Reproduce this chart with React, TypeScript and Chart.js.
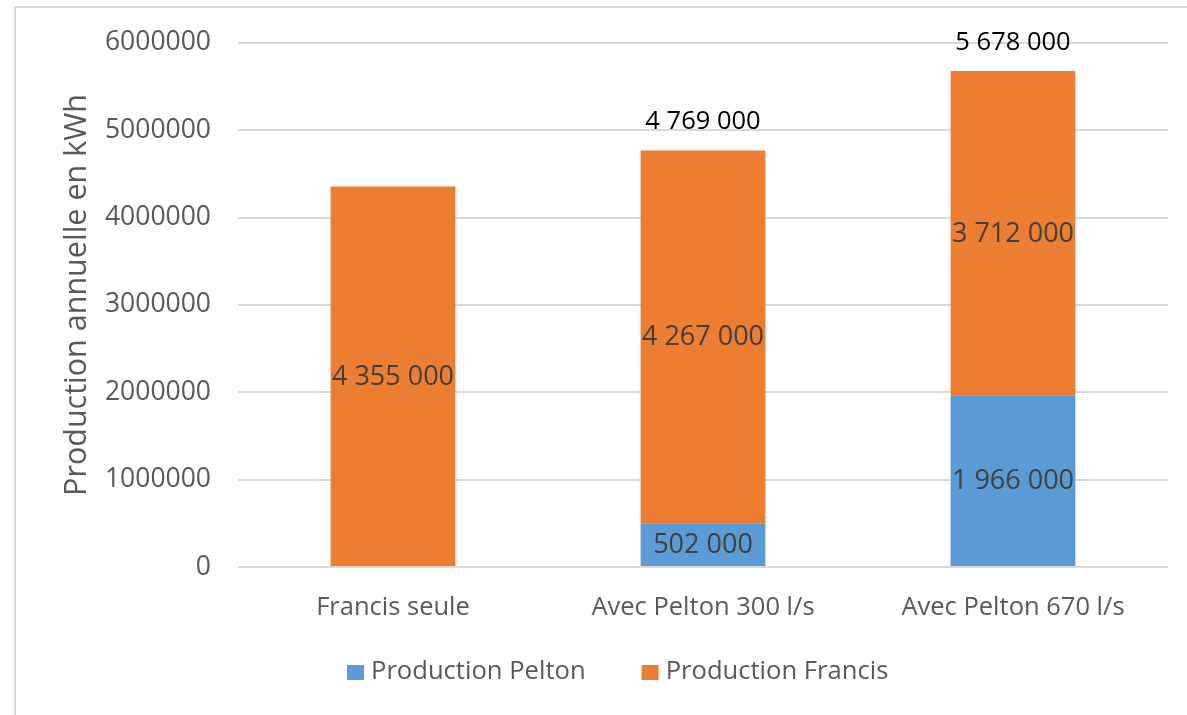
import React, { useEffect, useRef } from "react";
import { Chart, registerables } from "chart.js";

Chart.register(...registerables);

const categories = ["Francis seule", "Avec Pelton 300 l/s", "Avec Pelton 670 l/s"];
const peltonValues = [0, 502000, 1966000];
const francisValues = [4355000, 4267000, 3712000];
const totals: (number | null)[] = [null, 4769000, 5678000];
const seriesNames = ["Production Pelton", "Production Francis"];
const seriesColors = ["#5B9BD5", "#ED7D31"];
const yTitle = "Production annuelle en kWh";

const FONT = "'Open Sans', sans-serif";

const fmt = (v: number) => String(Math.round(v)).replace(/\B(?=(\d{3})+(?!\d))/g, " ");

const framePlugin = {
  id: "frame",
  beforeDraw(chart: any) {
    const ctx = chart.ctx;
    ctx.save();
    ctx.strokeStyle = "#D9D9D9";
    ctx.lineWidth = 2;
    ctx.beginPath();
    ctx.moveTo(15, chart.height);
    ctx.lineTo(15, 7);
    ctx.lineTo(chart.width, 7);
    ctx.stroke();
    ctx.restore();
  },
};

const titlePlugin = {
  id: "yTitle",
  afterDraw(chart: any) {
    const ctx = chart.ctx;
    ctx.save();
    ctx.font = `30.5px ${FONT}`;
    ctx.fillStyle = "#595959";
    ctx.textAlign = "center";
    ctx.textBaseline = "middle";
    ctx.translate(77, (chart.chartArea.top + chart.chartArea.bottom) / 2 - 10);
    ctx.rotate(-Math.PI / 2);
    ctx.fillText(yTitle, 0, 0);
    ctx.restore();
  },
};

const labelsPlugin = {
  id: "barLabels",
  afterDatasetsDraw(chart: any) {
    const ctx = chart.ctx;
    ctx.save();
    ctx.textAlign = "center";
    ctx.textBaseline = "middle";
    ctx.font = `27px ${FONT}`;
    ctx.fillStyle = "#404040";
    chart.data.datasets.forEach((ds: any, di: number) => {
      const meta = chart.getDatasetMeta(di);
      meta.data.forEach((el: any, i: number) => {
        const v = ds.data[i];
        if (!v) return;
        ctx.fillText(fmt(v), el.x, (el.y + el.base) / 2 + 1);
      });
    });
    ctx.font = `25.5px ${FONT}`;
    ctx.fillStyle = "#000000";
    const yScale = chart.scales.y;
    const xScale = chart.scales.x;
    totals.forEach((t, i) => {
      if (t == null) return;
      const x = xScale.getPixelForValue(i);
      const y = yScale.getPixelForValue(t);
      ctx.fillText(fmt(t), x, y - 28.5);
    });
    ctx.restore();
  },
};

const legendPlugin = {
  id: "customLegend",
  afterDraw(chart: any) {
    const ctx = chart.ctx;
    ctx.save();
    ctx.font = `25.6px ${FONT}`;
    ctx.textBaseline = "middle";
    ctx.textAlign = "left";
    let x = 347;
    const cy = 672;
    seriesNames.forEach((name, i) => {
      ctx.fillStyle = seriesColors[i];
      ctx.fillRect(x, cy - 7, 17, 15);
      ctx.fillStyle = "#595959";
      ctx.fillText(name, x + 24, cy);
      x += 24 + ctx.measureText(name).width + 56;
    });
    ctx.restore();
  },
};

export default function App() {
  const ref = useRef<HTMLCanvasElement | null>(null);
  useEffect(() => {
    if (!ref.current) return;
    const chart = new Chart(ref.current, {
      type: "bar",
      data: {
        labels: categories,
        datasets: [
          { label: seriesNames[0], data: peltonValues, backgroundColor: seriesColors[0], borderWidth: 0 },
          { label: seriesNames[1], data: francisValues, backgroundColor: seriesColors[1], borderWidth: 0 },
        ],
      },
      options: {
        animation: false,
        responsive: true,
        maintainAspectRatio: false,
        layout: { padding: { left: 58, top: 42, right: 19, bottom: 88 } },
        datasets: { bar: { categoryPercentage: 0.8, barPercentage: 0.503 } },
        plugins: { legend: { display: false }, tooltip: { enabled: false } },
        scales: {
          x: {
            stacked: true,
            grid: { display: false },
            border: { display: false },
            ticks: { color: "#595959", font: { family: FONT, size: 25.5 }, padding: 17, maxRotation: 0 },
            afterFit: (s: any) => { s.height = 60; },
          },
          y: {
            stacked: true,
            min: 0,
            max: 6000000,
            border: { display: false },
            grid: { color: "#D9D9D9", lineWidth: 2, drawTicks: false },
            ticks: {
              stepSize: 1000000,
              color: "#595959",
              font: { family: FONT, size: 26.5 },
              padding: 27,
              callback: (v: any) => String(v),
            },
            title: { display: false },
            afterFit: (s: any) => { s.width = 180; },
          },
        },
      },
      plugins: [framePlugin, labelsPlugin, legendPlugin, titlePlugin],
    });
    return () => chart.destroy();
  }, []);
  return (
    <div style={{ position: "fixed", left: 0, top: 0, width: "1187px", height: "715px", background: "#fff" }}>
      <canvas ref={ref} />
    </div>
  );
}
